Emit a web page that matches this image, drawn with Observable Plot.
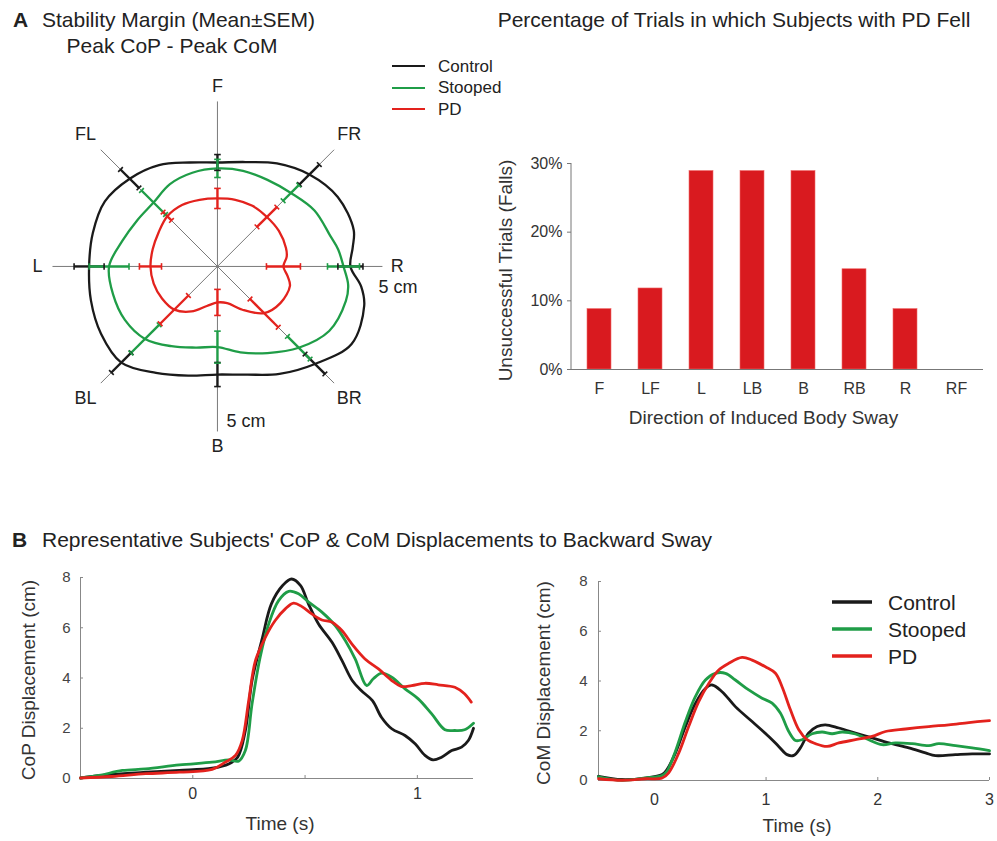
<!DOCTYPE html>
<html><head><meta charset="utf-8">
<script src="https://cdn.jsdelivr.net/npm/d3@7"></script>
<script src="https://cdn.jsdelivr.net/npm/@observablehq/plot@0.6"></script>
<style>
body{margin:0;background:#fff;font-family:"Liberation Sans",Arial,Helvetica,sans-serif;color:#222}
#root{position:relative;width:997px;height:841px;overflow:hidden}
.abs{position:absolute;white-space:nowrap;line-height:1}
.leg{position:absolute;display:flex;align-items:center;white-space:nowrap}
</style></head><body><div id="root"></div>
<script>
// ---------- data ----------
const groups = ["Control", "Stooped", "PD"];
const groupColors = ["#1a1a1a", "#1f9d47", "#e3221d"];

// Panel A (left): stability margin outline, radius (cm) at polar angle (deg, 0 = R, 90 = F)
const polarAngles = [0, 8, 15, 30, 45, 60, 75, 90, 105, 120, 135, 150, 165, 180, 195, 210, 225, 240, 255, 270, 285, 300, 315, 330, 345, 352];
const marginControl = [8.06, 8.28, 8.55, 8.42, 7.88, 7.21, 6.55, 6.30, 6.52, 7.09, 7.52, 7.88, 7.82, 7.78, 7.94, 8.15, 8.24, 7.45, 6.85, 6.55, 6.79, 7.52, 8.36, 9.39, 9.21, 8.80];
const marginStooped = [7.64, 7.39, 7.09, 6.79, 6.30, 6.06, 6.00, 5.94, 5.88, 5.76, 5.48, 5.61, 5.97, 6.57, 6.55, 6.48, 6.21, 5.58, 5.09, 4.89, 5.39, 6.06, 6.97, 7.82, 8.06, 8.00];
const marginPD = [4.00, 4.24, 4.30, 4.30, 4.24, 4.24, 4.18, 4.12, 4.18, 4.30, 4.30, 4.12, 4.06, 4.06, 4.00, 3.88, 3.70, 3.15, 2.48, 2.18, 2.30, 3.03, 4.00, 4.42, 4.55, 4.30];

// mean ± SEM at the 8 perturbation directions
const dirNames = ["F", "FR", "R", "BR", "B", "BL", "L", "FL"];
const dirAngles = [90, 45, 0, 315, 270, 225, 180, 135];
const meanControl = [6.30, 7.88, 8.06, 8.36, 6.55, 8.24, 7.78, 7.52];
const meanStooped = [5.94, 6.30, 7.64, 6.97, 4.89, 6.21, 6.57, 5.48];
const meanPD = [4.12, 4.24, 4.00, 4.00, 2.18, 3.70, 4.06, 4.30];
const semControl = [0.48, 0.85, 0.76, 0.85, 0.73, 0.85, 0.91, 0.79];
const semStooped = [0.55, 0.67, 0.97, 0.97, 0.97, 1.21, 1.21, 1.03];
const semPD = [0.61, 0.85, 1.03, 1.21, 0.79, 1.21, 0.67, 0.36];
const polarAxisLength = 10; // cm

// Panel A (right): falls
const fallDirections = ["F", "LF", "L", "LB", "B", "RB", "R", "RF"];
const fallPercent = [8.8, 11.8, 28.9, 28.9, 28.9, 14.6, 8.8, 0];

// Panel B: CoP displacement (cm) vs time (s)
const copControlT = [-0.5, -0.36, -0.21, -0.06, 0.086, 0.16, 0.2, 0.234, 0.264, 0.31, 0.35, 0.40, 0.44, 0.48, 0.515, 0.56, 0.62, 0.664, 0.71, 0.75, 0.80, 0.84, 0.886, 0.945, 0.99, 1.034, 1.07, 1.108, 1.153, 1.197, 1.227, 1.25];
const copControl = [0.02, 0.16, 0.25, 0.32, 0.41, 0.58, 0.85, 1.9, 3.9, 5.6, 6.95, 7.68, 7.94, 7.68, 6.95, 6.15, 5.42, 4.7, 3.9, 3.5, 3.1, 2.44, 1.98, 1.71, 1.38, 0.92, 0.74, 0.85, 1.11, 1.25, 1.51, 2.0];
const copStoopedT = [-0.5, -0.418, -0.314, -0.21, -0.06, 0.086, 0.16, 0.204, 0.234, 0.264, 0.30, 0.338, 0.382, 0.427, 0.471, 0.516, 0.575, 0.634, 0.679, 0.723, 0.775, 0.804, 0.841, 0.886, 0.945, 1.004, 1.064, 1.123, 1.167, 1.21, 1.25];
const copStooped = [0.02, 0.12, 0.32, 0.38, 0.54, 0.65, 0.74, 0.69, 1.11, 2.97, 4.83, 6.15, 7.08, 7.45, 7.35, 7.02, 6.62, 6.09, 5.49, 4.76, 3.7, 3.97, 4.19, 4.03, 3.57, 3.17, 2.57, 1.94, 1.91, 1.94, 2.2];
const copPDT = [-0.5, -0.36, -0.21, -0.06, 0.086, 0.145, 0.19, 0.22, 0.249, 0.279, 0.323, 0.367, 0.412, 0.449, 0.486, 0.53, 0.575, 0.62, 0.664, 0.708, 0.767, 0.827, 0.886, 0.93, 0.975, 1.034, 1.093, 1.167, 1.21, 1.24];
const copPD = [0.02, 0.08, 0.19, 0.25, 0.36, 0.65, 0.92, 1.51, 3.1, 4.69, 5.62, 6.29, 6.75, 6.98, 6.84, 6.55, 6.31, 6.22, 5.89, 5.36, 4.76, 4.36, 3.9, 3.66, 3.7, 3.79, 3.73, 3.63, 3.37, 3.04];

// Panel B: CoM displacement (cm) vs time (s)
const comControlT = [-0.5, -0.29, -0.08, 0.07, 0.113, 0.188, 0.278, 0.367, 0.457, 0.516, 0.606, 0.725, 0.875, 1.024, 1.113, 1.188, 1.248, 1.307, 1.382, 1.457, 1.531, 1.651, 1.8, 1.95, 2.099, 2.278, 2.427, 2.516, 2.695, 2.845, 3.0];
const comControl = [0.17, 0.04, 0.1, 0.24, 0.44, 1.1, 2.17, 3.1, 3.7, 3.84, 3.57, 2.97, 2.37, 1.77, 1.37, 1.04, 1.01, 1.31, 1.91, 2.17, 2.24, 2.11, 1.91, 1.71, 1.51, 1.31, 1.11, 1.0, 1.04, 1.07, 1.07];
const comStoopedT = [-0.5, -0.29, -0.08, 0.07, 0.113, 0.188, 0.278, 0.367, 0.457, 0.546, 0.636, 0.725, 0.845, 0.964, 1.054, 1.128, 1.203, 1.263, 1.322, 1.412, 1.501, 1.591, 1.681, 1.8, 1.919, 2.039, 2.158, 2.307, 2.457, 2.546, 2.696, 2.845, 3.0];
const comStooped = [0.15, 0.01, 0.1, 0.2, 0.37, 1.17, 2.37, 3.37, 4.04, 4.31, 4.31, 4.04, 3.64, 3.31, 3.11, 2.71, 1.97, 1.61, 1.64, 1.88, 1.95, 1.88, 1.95, 1.87, 1.64, 1.44, 1.51, 1.48, 1.4, 1.48, 1.4, 1.31, 1.2];
const comPDT = [-0.5, -0.29, -0.08, 0.07, 0.128, 0.218, 0.307, 0.397, 0.487, 0.576, 0.666, 0.785, 0.875, 0.994, 1.084, 1.143, 1.218, 1.293, 1.367, 1.442, 1.546, 1.651, 1.8, 1.949, 2.069, 2.248, 2.457, 2.636, 2.815, 3.0];
const comPD = [0.07, 0.01, 0.07, 0.1, 0.31, 1.1, 2.17, 3.17, 3.9, 4.44, 4.71, 4.95, 4.84, 4.57, 4.31, 3.77, 2.84, 2.04, 1.64, 1.48, 1.37, 1.51, 1.64, 1.77, 1.97, 2.07, 2.17, 2.24, 2.33, 2.41];

const cmTicksY = [0, 2, 4, 6, 8];
const copTicksX = [0, 0.5, 1];
const comTicksX = [0, 1, 2, 3];
const fallTicksY = [0, 10, 20, 30];

// ---------- helpers ----------
const FONT = '"Liberation Sans", Arial, Helvetica, sans-serif';
const root = document.getElementById("root");
const colorScale = {domain: groups, range: groupColors};
function place(el, left, top) {
  const d = document.createElement("div");
  d.style.position = "absolute"; d.style.left = left + "px"; d.style.top = top + "px";
  d.appendChild(el); root.appendChild(d); return d;
}
function addText(t, x, baseline, fs, opts = {}) {
  const d = document.createElement("div");
  d.className = "abs"; d.textContent = t;
  d.style.fontSize = fs + "px";
  d.style.left = x + "px";
  d.style.top = (baseline - 0.8465 * fs) + "px";
  if (opts.bold) d.style.fontWeight = "bold";
  if (opts.middle) d.style.transform = "translateX(-50%)";
  root.appendChild(d);
}
function addLegend(x, y0, dy, lineW, lineH, gap, fs) {
  groups.forEach((g, i) => {
    const row = document.createElement("div");
    row.className = "leg";
    row.style.left = x + "px"; row.style.top = (y0 + i * dy - 12) + "px"; row.style.height = "24px";
    row.innerHTML = `<svg width="${lineW}" height="8" style="display:block"><line x1="0" x2="${lineW}" y1="4" y2="4" stroke="${groupColors[i]}" stroke-width="${lineH}"/></svg><span style="font-size:${fs}px;margin-left:${gap}px;line-height:1">${g}</span>`;
    root.appendChild(row);
  });
}
const rad = a => a * Math.PI / 180;

// ---------- Panel A: polar stability margin ----------
const radiiByGroup = [marginControl, marginStooped, marginPD];
const meansByGroup = [meanControl, meanStooped, meanPD];
const semsByGroup = [semControl, semStooped, semPD];
const outline = [];
groups.forEach((g, gi) => radiiByGroup[gi].forEach((r, i) => outline.push({g, x: r * Math.cos(rad(polarAngles[i])), y: r * Math.sin(rad(polarAngles[i]))})));
const bars = [], caps = [];
groups.forEach((g, gi) => dirAngles.forEach((a, i) => {
  const m = meansByGroup[gi][i], s = semsByGroup[gi][i];
  const c = Math.cos(rad(a)), n = Math.sin(rad(a));
  bars.push({g, x1: (m - s) * c, y1: (m - s) * n, x2: (m + s) * c, y2: (m + s) * n});
  const w = 0.2;
  for (const r of [m - s, m + s]) caps.push({g, x1: r * c + w * n, y1: r * n - w * c, x2: r * c - w * n, y2: r * n + w * c});
}));
const axisLines = [0, 45, 90, 135].map(a => ({
  x1: -polarAxisLength * Math.cos(rad(a)), y1: -polarAxisLength * Math.sin(rad(a)),
  x2: polarAxisLength * Math.cos(rad(a)), y2: polarAxisLength * Math.sin(rad(a))}));
const dirLabels = dirNames.map((n, i) => {
  const r = dirAngles[i] % 90 === 0 ? 10.9 : 11.3;
  return {n, x: r * Math.cos(rad(dirAngles[i])), y: r * Math.sin(rad(dirAngles[i]))};
});
const scaleLabels = [{t: "5 cm", x: 9.76, y: -1.27}, {t: "5 cm", x: 0.55, y: -9.39}];

const polar = Plot.plot({
  width: 440, height: 400, margin: 0,
  style: {fontFamily: FONT, fontSize: "18px", color: "#222", background: "transparent", overflow: "visible"},
  x: {domain: [-13.15, 13.52], axis: null},
  y: {domain: [-11.76, 12.48], axis: null},
  color: colorScale,
  marks: [
    Plot.link(axisLines, {x1: "x1", y1: "y1", x2: "x2", y2: "y2", stroke: "#7a7a7a", strokeWidth: 1}),
    Plot.line(outline, {x: "x", y: "y", z: "g", stroke: "g", strokeWidth: 2.3, curve: "catmull-rom-closed"}),
    Plot.link(bars, {x1: "x1", y1: "y1", x2: "x2", y2: "y2", stroke: "g", strokeWidth: 2.4}),
    Plot.link(caps, {x1: "x1", y1: "y1", x2: "x2", y2: "y2", stroke: "g", strokeWidth: 1.6}),
    Plot.text(dirLabels, {x: "x", y: "y", text: "n", fontSize: 18, fill: "#222"}),
    Plot.text(scaleLabels, {x: "x", y: "y", text: "t", fontSize: 18, fill: "#222", textAnchor: "start"})
  ]
});
place(polar, 0, 60);

// ---------- Panel A: falls bar chart ----------
const fallRows = fallDirections.map((d, i) => ({d, v: fallPercent[i]}));
const yAxisLine = (index, scales, values, dims) => {
  const l = document.createElementNS("http://www.w3.org/2000/svg", "line");
  l.setAttribute("x1", dims.marginLeft); l.setAttribute("x2", dims.marginLeft);
  l.setAttribute("y1", dims.marginTop); l.setAttribute("y2", dims.height - dims.marginBottom);
  l.setAttribute("stroke", "#777"); l.setAttribute("stroke-width", 1);
  return l;
};
const barPlot = Plot.plot({
  width: 520, height: 300, marginLeft: 101, marginRight: 7, marginTop: 23, marginBottom: 71,
  style: {fontFamily: FONT, fontSize: "16px", color: "#333", background: "transparent", overflow: "visible"},
  x: {domain: fallDirections, paddingInner: 0.53, paddingOuter: 0.265, label: null},
  y: {domain: [0, 30], label: null},
  marks: [
    Plot.barY(fallRows, {x: "d", y: "v", fill: "#d91a1f", stroke: "#f06a6a", strokeWidth: 0.6}),
    Plot.ruleY([0], {stroke: "#777"}),
    yAxisLine,
    Plot.axisY({ticks: fallTicksY, tickFormat: d => d + "%", tickSize: 4, tickPadding: 5, fontSize: 16, label: null, stroke: "#777"}),
    Plot.axisX({tickSize: 0, tickPadding: 13, fontSize: 16, label: null}),
    Plot.text(["Unsuccessful Trials (Falls)"], {text: d => d, frameAnchor: "left", textAnchor: "middle", lineAnchor: "middle", rotate: -90, dx: -66, dy: 4, fontSize: 19, fill: "#333"}),
    Plot.text(["Direction of Induced Body Sway"], {text: d => d, frameAnchor: "bottom", textAnchor: "middle", lineAnchor: "middle", dx: -14, dy: 48, fontSize: 19, fill: "#333"})
  ]
});
place(barPlot, 470, 140);

// ---------- Panel B: time series ----------
function rows(tArrs, vArrs) {
  const out = [];
  groups.forEach((g, gi) => tArrs[gi].forEach((t, i) => out.push({g, t, v: vArrs[gi][i]})));
  return out;
}
const copRows = rows([copControlT, copStoopedT, copPDT], [copControl, copStooped, copPD]);
const comRows = rows([comControlT, comStoopedT, comPDT], [comControl, comStooped, comPD]);

function timePlot(data, o) {
  return Plot.plot({
    width: o.width, height: 270, marginLeft: o.ml, marginRight: o.mr, marginTop: o.mt, marginBottom: o.mb,
    style: {fontFamily: FONT, fontSize: "16px", color: "#333", background: "transparent", overflow: "visible"},
    x: {domain: o.xDomain, label: null},
    y: {domain: [0, 8], label: null},
    color: colorScale,
    marks: [
      Plot.ruleX([o.xDomain[0]], {stroke: "#888"}),
      Plot.ruleY([0], {stroke: "#888"}),
      Plot.axisY({ticks: cmTicksY, tickSize: -3, tickPadding: o.yPad, fontSize: 15, label: null, stroke: "#888", fill: "#444"}),
      Plot.axisX({ticks: o.xTicks, tickFormat: d => d === 0.5 ? "" : d, tickSize: -3, tickPadding: o.xPad, fontSize: 16, label: null, stroke: "#888"}),
      Plot.line(data, {x: "t", y: "v", z: "g", stroke: "g", strokeWidth: 2.8, curve: "catmull-rom"}),
      Plot.text([o.yLabel], {text: d => d, frameAnchor: "left", textAnchor: "middle", lineAnchor: "middle", rotate: -90, dx: o.yLabelDx, dy: 2, fontSize: 19, fill: "#333"}),
      Plot.text(["Time (s)"], {text: d => d, frameAnchor: "bottom", textAnchor: "middle", lineAnchor: "middle", dx: o.xLabelDx, dy: 45, fontSize: 19, fill: "#333"})
    ]
  });
}
const copPlot = timePlot(copRows, {width: 490, ml: 80, mr: 17, mt: 17, mb: 52, xDomain: [-0.5, 1.25], xTicks: copTicksX, yPad: 13, xPad: 12, yLabel: "CoP Displacement (cm)", yLabelDx: -52, xLabelDx: 3});
place(copPlot, 0, 560);
const comPlot = timePlot(comRows, {width: 485, ml: 88, mr: 6, mt: 21, mb: 50, xDomain: [-0.5, 3], xTicks: comTicksX, yPad: 14, xPad: 16, yLabel: "CoM Displacement (cm)", yLabelDx: -55, xLabelDx: 3});
place(comPlot, 510, 560);

// ---------- titles & legends ----------
addText("A", 13, 27, 21, {bold: true});
addText("Stability Margin (Mean±SEM)", 42, 27, 21);
addText("Peak CoP - Peak CoM", 172, 53, 21, {middle: true});
addText("Percentage of Trials in which Subjects with PD Fell", 734, 27, 21, {middle: true});
addText("B", 12, 547, 21, {bold: true});
addText("Representative Subjects' CoP & CoM Displacements to Backward Sway", 42, 547, 21);
addLegend(392, 66, 21.5, 33, 2.2, 13, 17);
addLegend(832, 602, 27, 40, 3.5, 16, 21);
</script></body></html>
